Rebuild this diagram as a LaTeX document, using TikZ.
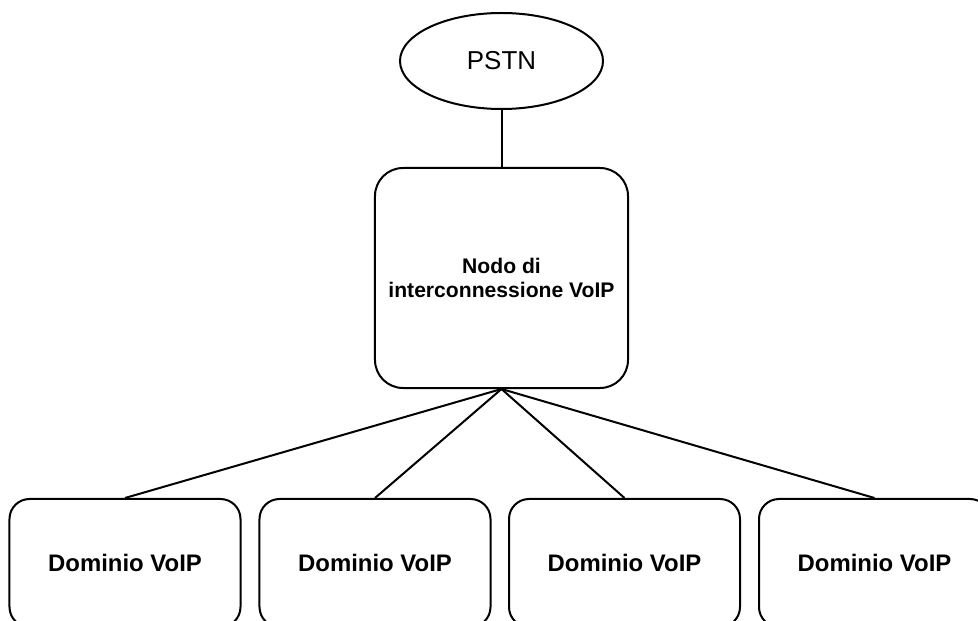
\documentclass[tikz,border=0pt]{standalone}
\usepackage{fontspec}
\setmainfont{Liberation Sans}
\usetikzlibrary{shapes.geometric}

\begin{document}
\begin{tikzpicture}[x=0.5bp, y=-0.5bp, line width=1bp,
  rete/.style={draw, ellipse, minimum width=101.5bp, minimum height=48bp, inner sep=0pt, font=\fontsize{13}{15}\selectfont},
  nodo/.style={draw, rounded corners=14bp, minimum width=126.5bp, minimum height=110bp, align=center, font=\bfseries\fontsize{10.6}{11.7}\selectfont},
  dominio/.style={draw, rounded corners=10bp, minimum width=115.5bp, minimum height=64bp, font=\bfseries\fontsize{12}{14}\selectfont}]
  \path[use as bounding box, clip] (0,0) rectangle (978,621);
  \node[rete] (pstn) at (501.5,61) {PSTN};
  \node[nodo] (nodo) at (501.5,278) {Nodo di\\interconnessione VoIP};
  \draw (pstn) -- (nodo);
  \foreach \i/\x in {1/125, 2/375, 3/624.5, 4/874.5}{
    \node[dominio] (dom\i) at (\x,563) {Dominio VoIP};
    \draw (nodo.south) -- (dom\i.north);
  }
\end{tikzpicture}
\end{document}
